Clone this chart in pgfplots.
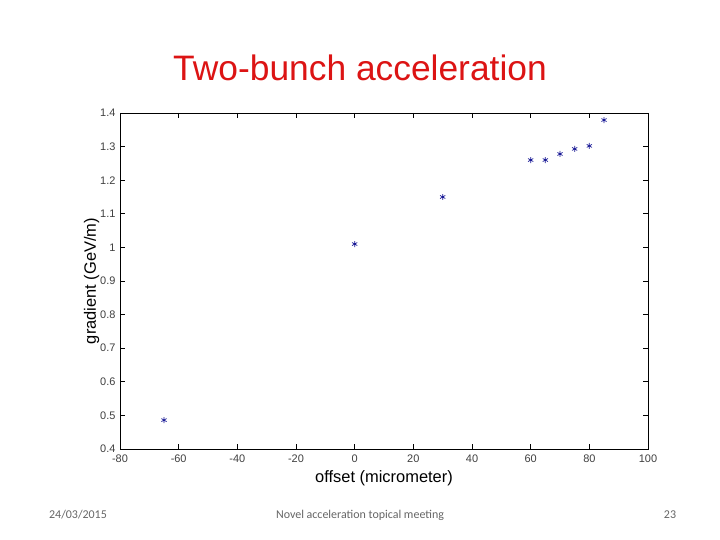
\documentclass[border=0pt]{standalone}
\usepackage{fontspec}
\setmainfont{Liberation Sans}
\newfontfamily\footfont{Carlito}
\usepackage{pgfplots}
\pgfplotsset{compat=1.18}

\definecolor{ptblue}{RGB}{25,25,150}
\definecolor{titlered}{RGB}{220,20,20}

\begin{document}
\begin{tikzpicture}[x=1bp,y=1bp]
  \useasboundingbox[fill=white] (0,0) rectangle (720,540);
  \node[text=titlered,font=\fontsize{35.5}{40}\selectfont] at (360,472) {Two-bunch acceleration};
  \begin{axis}[
    at={(120bp,91bp)}, anchor=south west,
    scale only axis,
    width=528bp, height=336bp,
    xmin=-80, xmax=100,
    ymin=0.4, ymax=1.4,
    xtick={-80,-60,...,100},
    ytick={0.4,0.5,...,1.41},
    tick align=inside,
    major tick length=5bp,
    axis line style={line width=0.7pt},
    tick style={line width=0.7pt, black},
    yticklabel style={/pgf/number format/fixed, /pgf/number format/precision=1, xshift=-1bp},
    /pgf/number format/assume math mode=true,
    tick label style={font=\fontsize{11}{12}\selectfont, text=black!75},
    xticklabel style={yshift=-2bp},
    xlabel={offset (micrometer)},
    ylabel={gradient (GeV/m)},
    label style={font=\fontsize{16.5}{18}\selectfont},
    xlabel style={yshift=-1bp},
    ylabel style={yshift=-6bp},
  ]
  \addplot[only marks, mark=asterisk, mark size=3pt, ptblue, mark options={line width=0.7pt}] coordinates {
    (-65,0.486) (0,1.01) (30,1.15) (60,1.26) (65,1.26) (70,1.278) (75,1.293) (80,1.302) (85,1.379)
  };
  \end{axis}
  \begin{scope}[font=\footfont\fontsize{12}{14}\selectfont, text=black!60]
    \node at (78,25) {24/03/2015};
    \node at (360,25) {Novel acceleration topical meeting};
    \node at (670,25) {23};
  \end{scope}
\end{tikzpicture}
\end{document}
